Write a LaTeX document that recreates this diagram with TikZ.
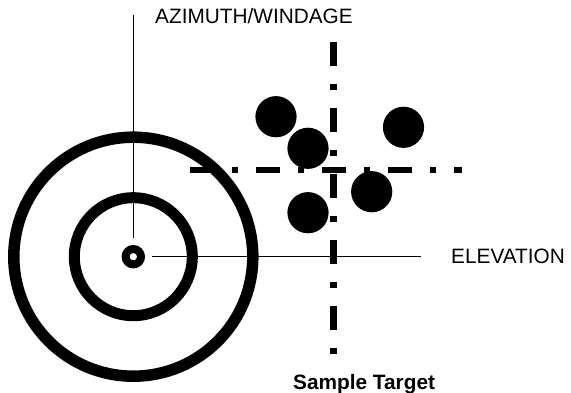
\documentclass[tikz,border=0pt]{standalone}
\usepackage{fontspec}
\setmainfont{Liberation Sans}
\begin{document}
\begin{tikzpicture}[x=1pt,y=-1pt,
  ring/.style={draw=black},
  shot/.style={fill=black},
  thin line/.style={line width=1.6pt},
  dashdot line/.style={line width=6.5pt, dash pattern=on 24pt off 18pt on 6pt off 18pt},
  lbl/.style={font=\fontsize{20.8}{24}\selectfont, inner sep=0pt, anchor=base west},
  blbl/.style={font=\fontsize{20.8}{24}\selectfont\bfseries, inner sep=0pt, anchor=base west}]
\useasboundingbox (0,0) rectangle (571,393);
% target rings
\coordinate (c) at (133.3,256.7);
\draw[ring, line width=11.5pt] (c) circle (119.5);
\draw[ring, line width=11pt] (c) circle (59);
\draw[ring, line width=8pt] (c) circle (7.7);
% shots
\fill[shot] (276,116.7) circle (20.6);
\fill[shot] (308,148.3) circle (20.6);
\fill[shot] (403.5,127.3) circle (20.6);
\fill[shot] (371.7,191.7) circle (20.6);
\fill[shot] (308,212.7) circle (20.6);
% dash-dot cross
\coordinate (vtop) at (333.7,41.7);
\coordinate (vbot) at (333.7,353.5);
\coordinate (hl) at (190,170);
\coordinate (hr) at (461.7,170);
\draw[dashdot line] (vtop) -- (vbot);
\draw[dashdot line] (hl) -- (hr);
% leader lines
\coordinate (atop) at (133.3,15);
\coordinate (abot) at (133.3,238);
\coordinate (el) at (152,256.7);
\coordinate (er) at (420.7,256.7);
\draw[thin line] (atop) -- (abot);
\draw[thin line] (el) -- (er);
% labels
\node[lbl] (az) at (155,24) {AZIMUTH/WINDAGE};
\node[lbl] (elev) at (451,264) {ELEVATION};
\node[blbl] (st) at (293,389.3) {Sample Target};
\end{tikzpicture}
\end{document}
